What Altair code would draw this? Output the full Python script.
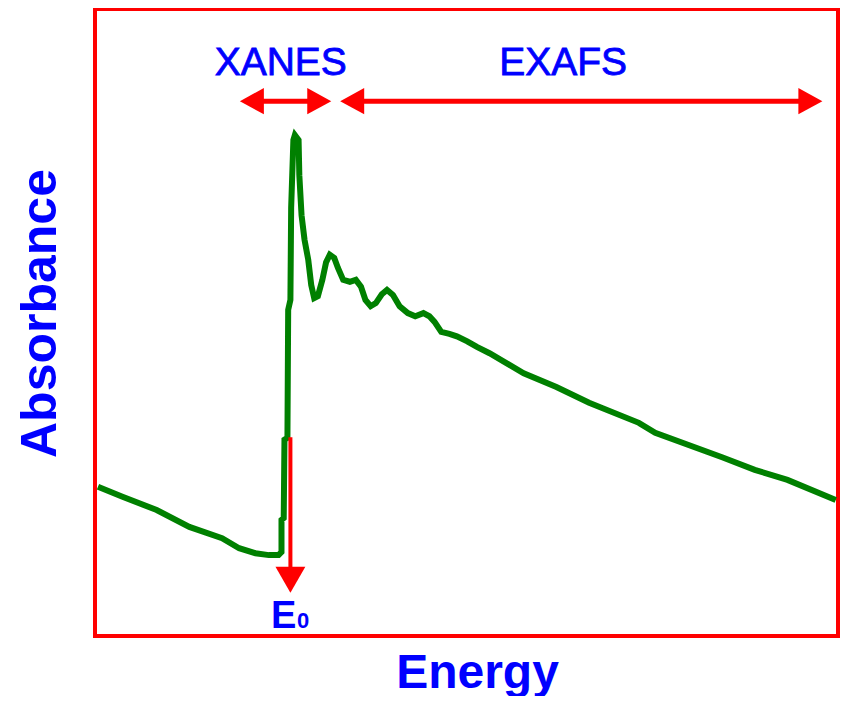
import altair as alt
import pandas as pd

# ---- spectrum (arbitrary units: energy 0-100, absorbance 0-100) ----
energy = [0.4, 3.7, 8.3, 12.7, 17.1, 19.4, 21.6, 23.4, 24.7, 25.1, 25.1, 25.4, 25.5, 25.9,
          26.0, 26.3, 26.4, 26.7, 26.9, 27.4, 27.5, 27.8, 28.2, 28.7, 29.1, 29.5, 30.0,
          30.6, 31.1, 31.6, 32.2, 32.7, 33.4, 34.3, 35.1, 35.8, 36.4, 37.1, 37.8, 38.6,
          39.3, 40.1, 41.0, 42.1, 43.1, 44.2, 45.0, 45.7, 46.6, 47.7, 48.7, 50.1, 51.4,
          53.1, 57.7, 62.1, 66.5, 73.2, 75.4, 84.4, 88.8, 93.2, 99.7]
absorbance = [23.8, 22.2, 20.1, 17.4, 15.6, 14.0, 13.2, 12.9, 12.9, 13.4, 18.5, 18.8, 31.3, 31.6,
              52.0, 53.6, 68.3, 79.1, 79.9, 79.1, 73.5, 67.1, 63.2, 60.0, 56.0, 53.9, 54.2,
              56.8, 59.6, 60.8, 60.3, 58.7, 56.8, 56.5, 56.8, 55.7, 53.6, 52.6, 53.1, 54.5,
              55.2, 54.4, 52.6, 51.5, 51.0, 51.5, 51.0, 50.1, 48.5, 48.2, 47.8, 47.0, 46.1,
              45.1, 41.9, 39.7, 37.2, 34.0, 32.4, 28.5, 26.5, 24.9, 21.7]

# ---- annotations ----
region_labels = ["XANES", "EXAFS"]
region_label_x = [25.0, 63.0]
region_label_y = [89.5, 89.5]
region_start = [19.5, 33.0]   # left arrow tips
region_end = [31.8, 97.9]     # right arrow tips
arrow_y = 85.3
head_len = 3.0                # shaft trimmed under arrow heads

e0_x = 26.3
e0_top = 31.7
e0_shaft_end = 10.0
e0_tip = 6.9
e0_label = ["E", "0"]
e0_label_x = [25.4, 28.0]
e0_label_y = [1.3, 1.3]

RED = "#FF0000"
BLUE = "#0000FF"
GREEN = "#008000"
FONT = "Liberation Sans"

spec_df = pd.DataFrame({"energy": energy, "absorbance": absorbance})
shaft_df = pd.DataFrame({
    "energy": [s + head_len for s in region_start],
    "energy2": [e - head_len for e in region_end],
    "absorbance": [arrow_y] * 2,
})
left_heads = pd.DataFrame({"energy": region_start, "absorbance": [arrow_y] * 2})
right_heads = pd.DataFrame({"energy": region_end, "absorbance": [arrow_y] * 2})
labels_df = pd.DataFrame({"energy": region_label_x, "absorbance": region_label_y, "label": region_labels})
e0_shaft = pd.DataFrame({"energy": [e0_x], "absorbance": [e0_top], "absorbance2": [e0_shaft_end]})
e0_head = pd.DataFrame({"energy": [e0_x], "absorbance": [e0_tip]})
e_df = pd.DataFrame({"energy": [e0_label_x[0]], "absorbance": [e0_label_y[0]], "label": [e0_label[0]]})
sub_df = pd.DataFrame({"energy": [e0_label_x[1]], "absorbance": [e0_label_y[1]], "label": [e0_label[1]]})

xs = alt.Scale(domain=[0, 100], nice=False, zero=False)
ys = alt.Scale(domain=[0, 100], nice=False, zero=False)
x_axis = alt.Axis(labels=False, ticks=False, domain=False, grid=False, title="Energy",
                  titleX=382, titleY=51, titleAlign="center", titleBaseline="alphabetic",
                  titleFontSize=48, titleFontWeight="bold", titleColor=BLUE, titleFont=FONT)
y_axis = alt.Axis(labels=False, ticks=False, domain=False, grid=False, title="Absorbance",
                  titleX=-40, titleY=304, titleAngle=-90, titleAlign="center",
                  titleBaseline="alphabetic", titleFontSize=50, titleFontWeight="bold",
                  titleColor=BLUE, titleFont=FONT)


def X(field="energy"):
    return alt.X(field + ":Q", scale=xs, axis=x_axis)


def Y(field="absorbance"):
    return alt.Y(field + ":Q", scale=ys, axis=y_axis)


line = alt.Chart(spec_df).mark_line(color=GREEN, strokeWidth=6, strokeJoin="miter").encode(
    x=X(), y=Y(), order=alt.Order("index:Q")
).transform_window(index="row_number()")

shafts = alt.Chart(shaft_df).mark_rule(color=RED, strokeWidth=5).encode(
    x=X(), x2="energy2:Q", y=Y()
)
lheads = alt.Chart(left_heads).mark_point(
    shape="M2,-1.1L0,0L2,1.1Z", filled=True, size=576, color=RED, opacity=1
).encode(x=X(), y=Y())
rheads = alt.Chart(right_heads).mark_point(
    shape="M-2,-1.1L0,0L-2,1.1Z", filled=True, size=576, color=RED, opacity=1
).encode(x=X(), y=Y())
region_text = alt.Chart(labels_df).mark_text(
    font=FONT, fontSize=39, color=BLUE, align="center", baseline="alphabetic",
    stroke=BLUE, strokeWidth=0.8
).encode(x=X(), y=Y(), text="label:N")

e0_line = alt.Chart(e0_shaft).mark_rule(color=RED, strokeWidth=4).encode(
    x=X(), y=Y(), y2="absorbance2:Q"
)
e0_arrow = alt.Chart(e0_head).mark_point(
    shape="M-1.15,-2L0,0L1.15,-2Z", filled=True, size=676, color=RED, opacity=1
).encode(x=X(), y=Y())
e_text = alt.Chart(e_df).mark_text(
    font=FONT, fontSize=38, fontWeight="bold", color=BLUE, align="center", baseline="alphabetic"
).encode(x=X(), y=Y(), text="label:N")
sub_text = alt.Chart(sub_df).mark_text(
    font=FONT, fontSize=22, fontWeight="bold", color=BLUE, align="center", baseline="alphabetic"
).encode(x=X(), y=Y(), text="label:N")

chart = alt.layer(
    line, shafts, lheads, rheads, region_text, e0_line, e0_arrow, e_text, sub_text
).properties(
    width=743, height=627,
    autosize=alt.AutoSizeParams(type="none"),
    padding={"left": 87, "top": 1, "right": 2, "bottom": 60},
).configure_view(stroke=RED, strokeWidth=4)

chart.save("out.html", embed_options={"renderer": "svg", "actions": False})
